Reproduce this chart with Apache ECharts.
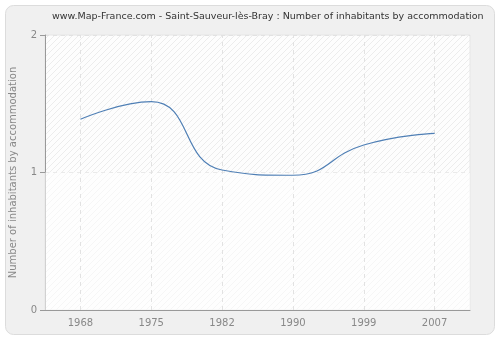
<!doctype html>
<html>
<head>
<meta charset="UTF-8">
<title>Number of inhabitants by accommodation</title>
<script src="https://cdn.jsdelivr.net/npm/echarts@6/dist/echarts.min.js"></script>
<style>
    html, body { margin: 0; padding: 0; background: #fff; }
    #main { width: 500px; height: 340px; }
</style>
</head>
<body>
<div id="main"></div>
<script>
    var years = ['1968', '1975', '1982', '1990', '1999', '2007'];
    var values = [1.387, 1.515, 1.018, 0.98, 1.2, 1.285];
    var yTicks = [0, 1, 2];

    // faint diagonal hatching for the plot background
    var pat = document.createElement('canvas');
    pat.width = 6;
    pat.height = 6;
    var ctx = pat.getContext('2d');
    ctx.fillStyle = '#fdfdfd';
    ctx.fillRect(0, 0, 6, 6);
    ctx.strokeStyle = '#ececec';
    ctx.lineWidth = 1;
    ctx.beginPath();
    ctx.moveTo(0, 6);
    ctx.lineTo(6, 0);
    ctx.moveTo(-3, 3);
    ctx.lineTo(3, -3);
    ctx.moveTo(3, 9);
    ctx.lineTo(9, 3);
    ctx.stroke();

    var gridLine = {color: '#e2e2e2', type: [4, 4], width: 1};

    var myChart = echarts.init(document.getElementById('main'));
    var option = {
        animation: false,
        graphic: [{
            type: 'rect',
            z: -10,
            shape: {x: 5.5, y: 5.5, width: 489, height: 329, r: 8},
            style: {fill: '#f0f0f0', stroke: '#dcdcdc', lineWidth: 1}
        }],
        title: {
            text: 'www.Map-France.com - Saint-Sauveur-lès-Bray : Number of inhabitants by accommodation',
            left: 47,
            top: 7,
            textStyle: {fontFamily: 'DejaVu Sans', fontSize: 9.5, fontWeight: 'normal', color: '#333'}
        },
        grid: {
            left: 40, right: 30, top: 35, bottom: 30,
            show: true,
            backgroundColor: {image: pat, repeat: 'repeat'},
            borderColor: '#e6e6e6',
            borderWidth: 1
        },
        xAxis: {
            type: 'category',
            data: years,
            boundaryGap: true,
            axisLine: {lineStyle: {color: '#999'}},
            axisTick: {alignWithLabel: true, length: 5, lineStyle: {color: '#999'}},
            axisLabel: {fontFamily: 'DejaVu Sans', fontSize: 10, color: '#888', margin: 8},
            splitLine: {show: false}
        },
        yAxis: {
            type: 'value',
            min: yTicks[0],
            max: yTicks[yTicks.length - 1],
            interval: 1,
            name: 'Number of inhabitants by accommodation',
            nameLocation: 'middle',
            nameGap: 27,
            nameTextStyle: {fontFamily: 'DejaVu Sans', fontSize: 10, color: '#888'},
            axisLine: {show: true, lineStyle: {color: '#999'}},
            axisTick: {show: true, length: 5, lineStyle: {color: '#999'}},
            axisLabel: {fontFamily: 'DejaVu Sans', fontSize: 10, color: '#888', margin: 8},
            splitLine: {show: true, lineStyle: gridLine}
        },
        series: [{
            type: 'line',
            data: values,
            smooth: 0.5,
            symbol: 'none',
            lineStyle: {color: '#4f7fb5', width: 1.2},
            z: 5,
            markLine: {
                silent: true,
                symbol: 'none',
                label: {show: false},
                lineStyle: gridLine,
                data: years.map(function (y) { return {xAxis: y}; })
            },
            markArea: {
                silent: true,
                itemStyle: {color: 'rgba(255,255,255,0.55)'},
                data: [[{yAxis: yTicks[0]}, {yAxis: yTicks[1]}]]
            }
        }]
    };
    myChart.setOption(option);
</script>
</body>
</html>
